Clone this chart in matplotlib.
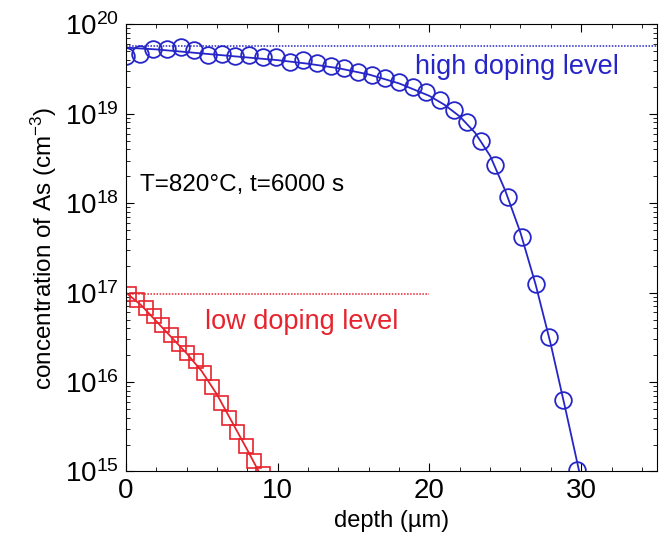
import numpy as np
import matplotlib
matplotlib.use("Agg")
import matplotlib.pyplot as plt
from matplotlib.ticker import AutoMinorLocator, LogLocator

plt.rcParams['font.family'] = ['Liberation Sans', 'DejaVu Sans']
plt.rcParams['mathtext.fontset'] = 'custom'
plt.rcParams['mathtext.rm'] = 'Liberation Sans'
plt.rcParams['mathtext.it'] = 'Liberation Sans:italic'

BLUE = '#2626c8'
RED = '#e8232d'

# --- high doping: measured points (circles), log10 of concentration
high_depth = [0.0, 0.9, 1.8, 2.7, 3.6, 4.5, 5.4, 6.3, 7.2, 8.1, 9.0, 9.9, 10.8,
              11.7, 12.6, 13.5, 14.4, 15.3, 16.2, 17.1, 18.0, 18.9, 19.8, 20.7,
              21.6, 22.5, 23.4, 24.3, 25.2, 26.1, 27.0, 27.9, 28.8, 29.7]
high_logc = [19.65, 19.67, 19.73, 19.73, 19.75, 19.71, 19.66, 19.67, 19.65,
             19.66, 19.64, 19.63, 19.58, 19.60, 19.57, 19.53, 19.51, 19.47,
             19.43, 19.40, 19.35, 19.30, 19.24, 19.15, 19.04, 18.91, 18.70,
             18.43, 18.07, 17.62, 17.10, 16.50, 15.80, 15.02]
# simulated profile (solid line)
high_sim_depth = [0, 2, 4, 6, 8, 10, 12, 14, 16, 18, 20, 21, 22, 23, 24, 25,
                  26, 27, 28, 29, 30]
high_sim_logc = [19.74, 19.72, 19.69, 19.66, 19.63, 19.60, 19.56, 19.51, 19.44,
                 19.34, 19.20, 19.10, 18.97, 18.79, 18.53, 18.14, 17.67, 17.09,
                 16.42, 15.67, 14.90]
high_level = 19.76

# --- low doping
low_depth = [0.2, 0.75, 1.3, 1.85, 2.4, 2.95, 3.5, 4.05, 4.6, 5.15, 5.7, 6.25,
             6.8, 7.35, 7.9, 8.45, 9.0]
low_logc = [16.98, 16.92, 16.83, 16.74, 16.64, 16.53, 16.43, 16.33, 16.23,
            16.10, 15.94, 15.77, 15.60, 15.44, 15.28, 15.12, 14.97]
low_sim_depth = [0, 1, 2, 3, 4, 5, 6, 7, 8, 9]
low_sim_logc = [17.0, 16.86, 16.68, 16.50, 16.32, 16.12, 15.86, 15.55, 15.24,
                14.92]
low_level = 16.98

fig = plt.figure(figsize=(6.63, 5.54), dpi=100)
ax = fig.add_axes([0.19, 0.149, 0.801, 0.807])

ax.plot(high_sim_depth, 10**np.array(high_sim_logc), '-', color=BLUE, lw=1.3)
ax.plot(high_depth, 10**np.array(high_logc), 'o', mfc='none', mec=BLUE,
        ms=12, mew=1.3)
ax.axhline(10**high_level, color=BLUE, ls=(0, (1, 1)), lw=1.1)

ax.plot(low_sim_depth, 10**np.array(low_sim_logc), '-', color=RED, lw=1.3)
ax.plot(low_depth, 10**np.array(low_logc), 's', mfc='none', mec=RED,
        ms=10.5, mew=1.2)
ax.plot([0, 20], [10**low_level] * 2, color=RED, ls=(0, (1, 1)), lw=1.1)

ax.set_yscale('log')
ax.set_xlim(0, 35)
ax.set_ylim(1e15, 1e20)
ax.set_xticks([0, 10, 20, 30])
ax.xaxis.set_minor_locator(AutoMinorLocator(5))
ax.yaxis.set_major_locator(LogLocator(base=10, numticks=10))
ax.yaxis.set_minor_locator(LogLocator(base=10, subs=np.arange(2, 10), numticks=20))
ax.tick_params(which='both', direction='in', top=True, right=True,
               labelsize=20)
ax.tick_params(which='major', length=6, pad=5)
ax.tick_params(which='minor', length=3)

ax.text(0.9, 10**18.2, 'T=820°C, t=6000 s', fontsize=17.5, va='center',
        ha='left', color='black')
ax.text(19.05, 10**19.52, 'high doping level', fontsize=19.5, va='center',
        ha='left', color=BLUE)
ax.text(5.2, 10**16.67, 'low doping level', fontsize=19.5, va='center',
        ha='left', color=RED)

ax.set_xlabel('depth (µm)', fontsize=17)
ax.set_ylabel('concentration of As (cm$^{-3}$)', fontsize=17.5)

fig.savefig('out.png', dpi=100)
